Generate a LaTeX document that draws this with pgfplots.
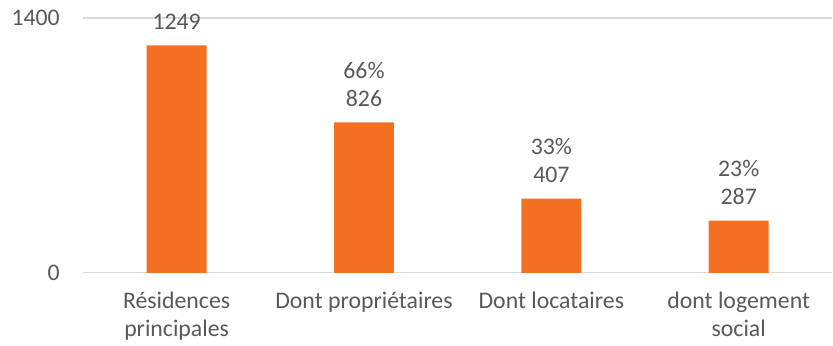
\documentclass[border=0pt]{standalone}
\usepackage{pgfplots}
\pgfplotsset{compat=1.18}
\usepackage{fontspec}
\setmainfont{Carlito}
\definecolor{barorange}{HTML}{F37022}
\definecolor{txtgrey}{HTML}{595959}
\definecolor{gridgrey}{HTML}{D9D9D9}

\begin{document}
\begin{tikzpicture}
\begin{axis}[
  name=ax,
  scale only axis,
  width=750bp, height=255bp,
  ymin=0, ymax=1400,
  xmin=-0.5, xmax=3.5,
  ytick={0,1400},
  xtick={0,1,2,3},
  xticklabels={{Résidences\\principales},{Dont propriétaires},{Dont locataires},{dont logement\\social}},
  font=\fontsize{23.8bp}{28bp}\selectfont,
  ticklabel style={text=txtgrey},
  /pgf/number format/assume math mode=true,
  /pgf/number format/1000 sep={},
  x tick label style={align=center, anchor=north, inner sep=0pt, yshift=-19bp},
  y tick label style={anchor=east, inner sep=0pt, xshift=-23bp},
  major tick length=0pt,
  axis line style={draw=none},
  ymajorgrids,
  grid style={gridgrey, line width=1.2bp},
  ybar, bar width=60bp,
  point meta=explicit symbolic,
  nodes near coords,
  every node near coord/.append style={text=txtgrey, align=center, anchor=south, inner sep=0pt, yshift=16bp},
  clip=false,
]
\addplot[fill=barorange, draw=none] coordinates {
  (0,1249) [1249]
  (1,826) [{66\%\\826}]
  (2,407) [{33\%\\407}]
  (3,287) [{23\%\\287}]
};
\end{axis}
\path[use as bounding box] ([xshift=-83bp,yshift=-73bp]ax.south west) rectangle ([yshift=18bp]ax.north east);
\end{tikzpicture}
\end{document}
